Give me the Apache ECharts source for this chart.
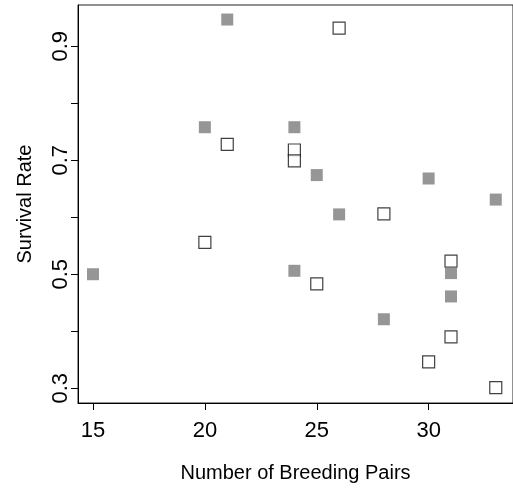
<!DOCTYPE html>
<html>
<head>
<meta charset="utf-8">
<script src="https://cdn.jsdelivr.net/npm/echarts@6/dist/echarts.min.js"></script>
<style>
  html, body { margin: 0; padding: 0; background: #fff; }
  #chart { width: 513px; height: 488px; }
</style>
</head>
<body>
<div id="chart"></div>
<script>
// filled (grey) squares
const filledX = [15, 20, 21, 24, 24, 25, 26, 28, 30, 31, 31, 33]
const filledY = [0.50, 0.758, 0.947, 0.758, 0.506, 0.674, 0.605, 0.421, 0.668, 0.502, 0.461, 0.631]
// open squares
const openX = [20, 21, 24, 24, 25, 26, 28, 30, 31, 31, 33]
const openY = [0.556, 0.728, 0.718, 0.699, 0.483, 0.932, 0.606, 0.346, 0.523, 0.390, 0.301]

const xTicks = [15, 20, 25, 30]
const yTicks = [0.3, 0.4, 0.5, 0.6, 0.7, 0.8, 0.9]
const yLabels = [0.3, 0.5, 0.7, 0.9]

const pairs = (xs, ys) => xs.map((x, i) => [x, ys[i]])

const chart = echarts.init(document.getElementById('chart'))
const font = 'Liberation Sans, Arial, sans-serif'

chart.setOption({
  animation: false,
  grid: {
    left: 78,
    top: 5,
    right: -3,
    bottom: 82,
    show: true,
    borderColor: '#222',
    borderWidth: 1
  },
  xAxis: {
    type: 'value',
    min: 14.33,
    max: 33.77,
    name: 'Number of Breeding Pairs',
    nameLocation: 'middle',
    nameGap: 60,
    nameTextStyle: { fontFamily: font, fontSize: 20, color: '#000' },
    axisLine: { show: true, onZero: false, lineStyle: { color: '#000', width: 1 } },
    axisTick: { show: true, length: 7, customValues: xTicks, lineStyle: { color: '#000' } },
    axisLabel: {
      customValues: xTicks,
      fontFamily: font,
      fontSize: 22,
      color: '#000',
      margin: 17
    },
    splitLine: { show: false }
  },
  yAxis: {
    type: 'value',
    min: 0.274,
    max: 0.9725,
    name: 'Survival Rate',
    nameLocation: 'middle',
    nameGap: 43,
    nameTextStyle: { fontFamily: font, fontSize: 20, color: '#000' },
    axisLine: { show: true, onZero: false, lineStyle: { color: '#000', width: 1 } },
    axisTick: { show: true, length: 7, customValues: yTicks, lineStyle: { color: '#000' } },
    axisLabel: {
      customValues: yLabels,
      rotate: 90,
      fontFamily: font,
      fontSize: 22,
      color: '#000',
      margin: 6,
      formatter: v => v.toFixed(1)
    },
    splitLine: { show: false }
  },
  series: [
    {
      type: 'scatter',
      data: pairs(openX, openY),
      symbol: 'rect',
      symbolSize: 12,
      itemStyle: { color: '#fff', borderColor: '#111', borderWidth: 1.2 }
    },
    {
      type: 'scatter',
      data: pairs(filledX, filledY),
      symbol: 'rect',
      symbolSize: 12,
      itemStyle: { color: '#7c7c7c' }
    }
  ]
})
</script>
</body>
</html>
